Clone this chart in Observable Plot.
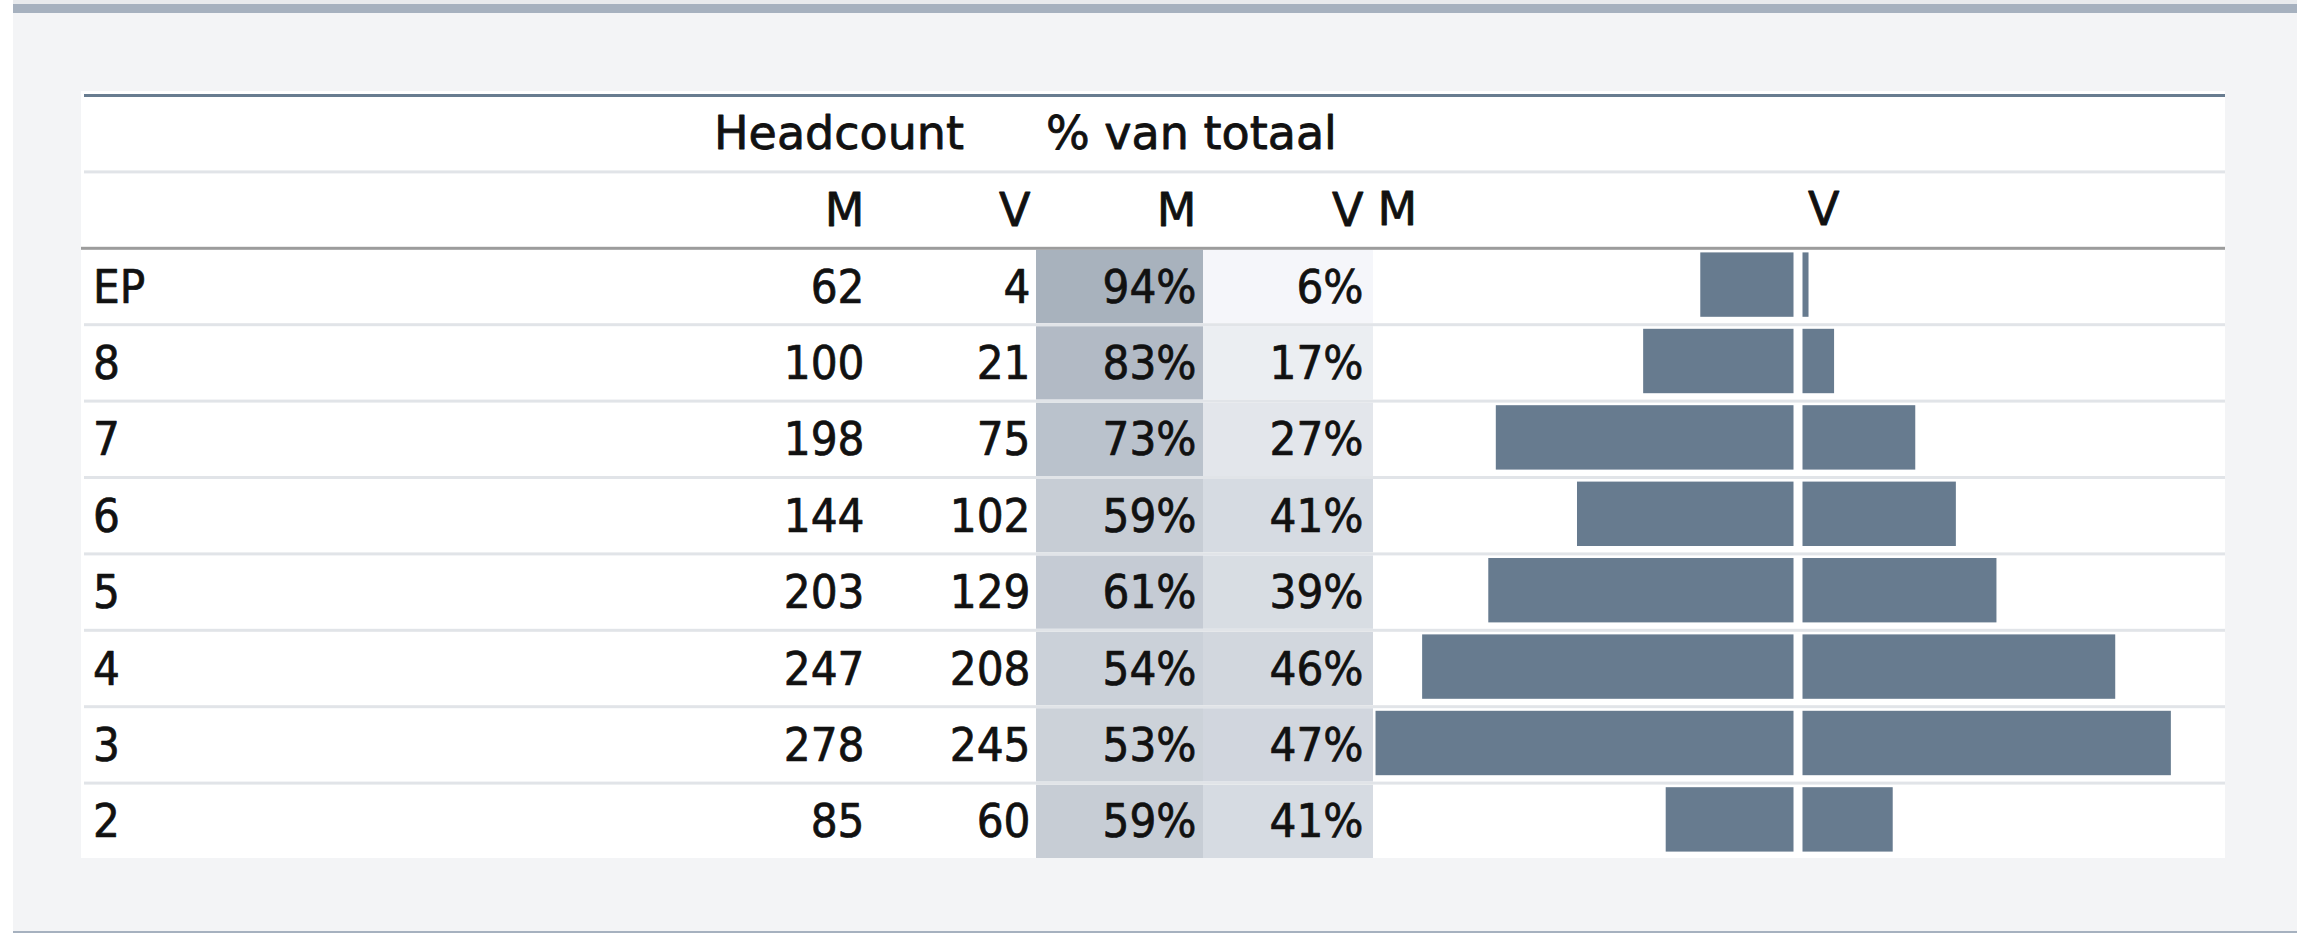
<!DOCTYPE html>
<html>
<head>
<meta charset="utf-8">
<script src="https://cdn.jsdelivr.net/npm/d3@7"></script>
<script src="https://cdn.jsdelivr.net/npm/@observablehq/plot@0.6"></script>
<style>
  html, body { margin: 0; padding: 0; background: #ffffff; }
  #page { position: relative; width: 2307px; height: 933px; overflow: hidden; background: #ffffff; }
  #card { position: absolute; left: 13px; top: 0; width: 2284px; height: 933px; background: #f3f4f6; }
  #cardTop { position: absolute; left: 13px; top: 0; width: 2284px; height: 4px; background: #e8eaed; }
  #topBar { position: absolute; left: 13px; top: 4px; width: 2284px; height: 9px; background: #a6b1bf; }
  #bottomBar { position: absolute; left: 13px; top: 931px; width: 2284px; height: 2px; background: #a6b1bf; }
  #panel { position: absolute; left: 81px; top: 91px; width: 2144px; height: 767px; background: #ffffff; }
</style>
</head>
<body>
<div id="page">
  <div id="card"></div>
  <div id="cardTop"></div>
  <div id="topBar"></div>
  <div id="bottomBar"></div>
  <div id="panel"></div>
</div>
<script>
// ---- Data ----
const categories = ["EP", "8", "7", "6", "5", "4", "3", "2"];
const headcountM = [62, 100, 198, 144, 203, 247, 278, 85];
const headcountV = [4, 21, 75, 102, 129, 208, 245, 60];
const pctM = [94, 83, 73, 59, 61, 54, 53, 59];
const pctV = [6, 17, 27, 41, 39, 46, 47, 41];
const groupHeaders = ["Headcount", "% van totaal"];
const subHeaders = ["M", "V", "M", "V", "M", "V"];

// ---- Layout (pixels) ----
const L = {
  rowsTop: 94, rowsBottom: 858,
  lineLeft: 84, strongLeft: 81, lineRight: 2225, sep: 3,
  label: 92.5,
  cols: [864, 1030, 1196, 1363],
  pMcell: [1036, 1203], pVcell: [1203, 1373],
  group: [713.5, 1045.5],
  barLeft: 1371, barWidth: 854, barMax: 284, barGap: 4.5, barInset: 6
};
const rowKeys = ["h1", "h2", ...categories];
const bw = (L.rowsBottom - L.rowsTop) / rowKeys.length;

const rows = categories.map((c, i) => ({cat: c, m: headcountM[i], v: headcountV[i], pm: pctM[i], pv: pctV[i]}));

const headFont = "'DejaVu Sans', Verdana, sans-serif";
const dataFont = "'DejaVu Sans Condensed', 'Liberation Sans', sans-serif";
const ink = "#111111";
const barColor = "#677b8f";
const headText = {fontSize: 46, fontFamily: headFont, fill: ink, stroke: ink, strokeWidth: 0.8, dy: 2};
const dataText = {fontSize: 47, fontFamily: dataFont, fill: ink, stroke: ink, strokeWidth: 0.7, dy: 2};

const table = Plot.plot({
  width: 2307, height: 933, margin: 0,
  style: {position: "absolute", left: "0px", top: "0px", background: "transparent", maxWidth: "none"},
  x: {type: "linear", domain: [0, 2307], range: [0, 2307], axis: null},
  y: {type: "band", domain: rowKeys, range: [L.rowsTop, L.rowsBottom], padding: 0, round: false, axis: null},
  color: {type: "linear", domain: [0, 100], range: ["#fafbfe", "#a3adb9"], interpolate: "rgb"},
  marks: [
    // shaded percentage cells
    Plot.barX(rows, {x1: L.pMcell[0], x2: L.pMcell[1], y: "cat", fill: "pm", insetTop: L.sep}),
    Plot.barX(rows, {x1: L.pVcell[0], x2: L.pVcell[1], y: "cat", fill: "pv", insetTop: L.sep}),
    // row rules
    Plot.barX(["h1"], {x1: L.lineLeft, x2: L.lineRight, y: d => d, fill: "#687c90", insetBottom: bw - L.sep}),
    Plot.barX(["h2", ...categories.slice(1)], {x1: L.lineLeft, x2: L.lineRight, y: d => d, fill: "#e1e4e8", insetBottom: bw - L.sep}),
    Plot.barX([categories[0]], {x1: L.strongLeft, x2: L.lineRight, y: d => d, fill: "#9c9c9c", insetBottom: bw - L.sep}),
    // group headers
    Plot.text(groupHeaders, {x: (d, i) => L.group[i], y: () => "h1", text: d => d, textAnchor: "start", ...headText}),
    // sub headers
    Plot.text(subHeaders.slice(0, 4), {x: (d, i) => L.cols[i], y: () => "h2", text: d => d, textAnchor: "end", ...headText}),
    // category labels
    Plot.text(rows, {x: L.label, y: "cat", text: "cat", textAnchor: "start", ...dataText}),
    // values
    Plot.text(rows, {x: L.cols[0], y: "cat", text: d => String(d.m), textAnchor: "end", ...dataText}),
    Plot.text(rows, {x: L.cols[1], y: "cat", text: d => String(d.v), textAnchor: "end", ...dataText}),
    Plot.text(rows, {x: L.cols[2], y: "cat", text: d => d.pm + "%", textAnchor: "end", ...dataText}),
    Plot.text(rows, {x: L.cols[3], y: "cat", text: d => d.pv + "%", textAnchor: "end", ...dataText})
  ]
});

const barsHeight = bw * 9;
const bars = Plot.plot({
  width: L.barWidth, height: barsHeight, margin: 0,
  style: {position: "absolute", left: L.barLeft + "px", top: (L.rowsTop + bw) + "px", background: "transparent", maxWidth: "none", overflow: "visible"},
  x: {type: "linear", domain: [-L.barMax, L.barMax], range: [0, L.barWidth], axis: null},
  y: {type: "band", domain: ["h2", ...categories], range: [0, barsHeight], padding: 0, round: false, axis: null},
  marks: [
    Plot.barX(rows, {x1: d => -d.m, x2: 0, y: "cat", fill: barColor, insetTop: L.barInset, insetBottom: L.barInset, dx: -L.barGap}),
    Plot.barX(rows, {x1: 0, x2: "v", y: "cat", fill: barColor, insetTop: L.barInset, insetBottom: L.barInset, dx: L.barGap}),
    Plot.text([subHeaders[4]], {x: -L.barMax, y: () => "h2", text: d => d, textAnchor: "start", dx: 6, ...headText}),
    Plot.text([subHeaders[5]], {x: 0, y: () => "h2", text: d => d, textAnchor: "start", dx: 9.5, ...headText})
  ]
});

const page = document.getElementById("page");
page.appendChild(table);
page.appendChild(bars);
</script>
</body>
</html>
